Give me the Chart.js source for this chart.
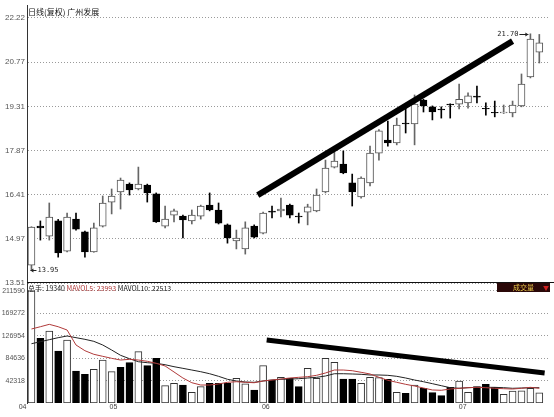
<!DOCTYPE html>
<html>
<head>
<meta charset="utf-8">
<title>广州发展 日线</title>
<script src="https://cdn.jsdelivr.net/npm/chart.js@4.4.1/dist/chart.umd.min.js"></script>
<style>
  body { margin: 0; background: #fff; }
  #wrap { position: relative; width: 554px; height: 417px; overflow: hidden; font-family: "Noto Sans CJK SC", "Liberation Sans", sans-serif; }
  canvas { position: absolute; left: 0; }
  #priceCanvas { top: 0; }
  #volCanvas { top: 283px; }
  .hdr { position: absolute; white-space: nowrap; }
  #title { left: 28px; top: 7px; font-size: 8px; line-height: 9px; color: #111; }
  #volHdr { left: 28px; top: 284px; font-size: 7px; line-height: 8px; color: #222; }
  #volHdr .ma5 { color: #b03a3a; }
  #volTag { left: 497px; top: 283px; width: 53px; height: 9px; background: #2a0808; font-size: 7px; line-height: 9px; color: #e8c84a; }
  #volTag span { position: absolute; left: 16px; }
  #volTag i { position: absolute; left: 46px; color: #d02020; font-style: normal; font-size: 6px; }
</style>
</head>
<body>
<div id="wrap">
  <canvas id="priceCanvas" width="554" height="290"></canvas>
  <canvas id="volCanvas" width="554" height="134"></canvas>
  <div class="hdr" id="title">日线(复权) 广州发展</div>
  <div class="hdr" id="volHdr">总手: 19340 <span class="ma5">MAVOL5: 23993</span> MAVOL10: 22513</div>
  <div class="hdr" id="volTag"><span>成交量</span><i>▼</i></div>
</div>
<script>
// daily candles (58 sessions, Apr - Jul)
var opens  = [14.10,15.38,15.05,15.55,14.56,15.61,15.19,14.53,15.38,16.17,
              16.50,16.76,16.60,16.73,16.44,15.38,15.74,15.71,15.55,15.71,
              16.07,15.91,15.42,14.89,14.63,15.38,15.15,15.87,15.88,16.07,
              15.71,15.84,15.88,16.50,17.32,17.42,16.80,16.34,16.80,17.78,
              18.21,18.11,18.77,18.74,19.52,19.30,19.23,19.39,19.39,19.43,
              19.65,19.25,19.12,19.10,19.10,19.33,20.28,21.10];
var highs  = [15.36,15.55,16.14,15.60,15.81,15.81,15.22,15.48,16.37,16.60,
              16.96,16.80,17.32,16.76,16.47,16.04,15.94,15.74,15.91,16.07,
              16.47,16.14,15.45,15.25,15.52,15.42,15.84,16.04,16.30,16.10,
              15.81,16.10,16.60,17.55,17.82,17.85,17.09,17.00,18.01,18.55,
              18.83,18.93,19.30,19.69,19.55,19.33,19.30,19.40,20.05,19.76,
              19.98,19.43,19.49,19.36,19.49,20.38,21.70,21.68];
var lows   = [13.95,14.92,14.92,14.36,14.53,15.25,14.36,14.52,15.35,15.78,
              15.94,16.40,16.57,16.17,15.50,15.32,15.52,14.99,15.45,15.61,
              15.88,15.45,14.82,14.63,14.46,14.99,15.12,15.65,15.68,15.65,
              15.48,15.42,15.85,16.47,17.29,17.10,16.04,16.30,16.70,17.55,
              18.01,18.05,18.44,18.05,19.13,18.87,18.93,18.93,19.23,19.26,
              19.43,19.03,18.97,19.08,18.97,19.30,20.25,20.74];
var closes = [15.35,15.32,15.68,14.50,15.68,15.28,14.53,15.32,16.14,16.37,
              16.89,16.57,16.76,16.47,15.52,15.61,15.88,15.58,15.74,16.04,
              15.91,15.48,14.99,14.99,15.32,15.02,15.81,15.84,15.94,15.74,
              15.68,16.01,16.40,17.29,17.52,17.13,16.50,16.96,17.78,18.51,
              18.11,18.70,18.74,19.39,19.33,19.13,19.20,19.36,19.55,19.66,
              19.62,19.23,19.10,19.13,19.36,20.05,21.53,21.40];

// volume (hands) and its moving averages
var volumes = [212000,122200,136000,98200,119000,60400,54200,63600,81200,59200,
               67400,76200,97000,70500,84400,32700,37200,34000,20200,30800,
               37200,37200,37200,46700,36000,24600,70500,43400,48500,46700,
               30800,65500,46700,84400,76900,45300,45300,37200,48500,47800,
               44800,20200,18300,34000,27800,19500,13800,29600,41600,20200,
               30800,35300,29600,16400,22700,23200,27800,19340];
var volUp = [1,0,1,0,1,0,0,1,1,1, 0,0,1,0,0,1,1,0,1,1, 0,0,0,1,1,0,1,0,1,0,
             0,1,1,1,1,0,0,1,1,1, 0,1,0,1,0,0,0,0,1,1, 0,0,0,1,1,1,1,1];
var mavol5 = [139800,144100,148600,144100,137900,109600,98800,92000,88200,84400,
              81200,82500,81200,78800,75000,69900,58600,47200,38300,34000,
              34000,35900,39100,40200,39100,38300,41600,43400,45300,47200,
              48500,49700,52300,56700,62300,62300,61000,58000,54800,48500,
              42900,39100,35300,32100,28300,24600,24000,26400,27800,28900,
              29600,28900,27800,27000,26400,27800,29600,27800];
var mavol10 = [112000,115800,119600,123400,126600,123400,120300,116500,109600,100100,
               90100,83700,78000,76100,75000,72300,68600,65500,62300,59100,
               55300,50400,44800,41600,39700,39100,41600,43400,44800,45300,
               45900,47200,48500,51000,55300,55300,54800,54200,52900,52900,
               52300,50400,47200,43400,40200,36500,32700,28900,27800,28900,
               29600,29600,29600,28900,27800,28300,28900,28900];

// axis labels
var priceTickLabels = ['13.51','14.97','16.41','17.87','19.31','20.77','22.22'];
var volTickLabels = ['42318','84636','126954','169272','211590'];
var monthTickPos = [0, 10.2, 27.3, 49.4];
var monthLabels = ['04','05','06','07'];

// the two hand-drawn trend lines (session index, value)
var priceTrend = [{x: 26.4, y: 16.40}, {x: 55.0, y: 21.46}];
var volTrend = [{x: 27.4, y: 119000}, {x: 58.6, y: 56700}];

var X_MIN = 0.5, X_MAX = 59.2;
var tickFont = {family: 'Liberation Sans', size: 8};

var priceTickVals = priceTickLabels.map(function(t) { return parseFloat(t); });
// the price axis is split in six equal steps between the end labels
var pLo = priceTickVals[0], pHi = priceTickVals[priceTickVals.length - 1];
var priceTickPos = priceTickLabels.map(function(t, k) { return pLo + k * (pHi - pLo) / 6; });

function isUp(i) { return closes[i] >= opens[i]; }

var wickData = opens.map(function(o, i) { return {x: i + 1, y: [lows[i], highs[i]]}; });
var bodyData = opens.map(function(o, i) { return {x: i + 1, y: [o, closes[i]]}; });

// separator under the price panel plus the high / low markers
var priceExtras = {
    id: 'priceExtras',
    afterDatasetsDraw: function(chart) {
        var ctx = chart.ctx, x = chart.scales.x, y = chart.scales.y, area = chart.chartArea;
        ctx.save();
        ctx.strokeStyle = '#111';
        ctx.lineWidth = 1;
        ctx.beginPath();
        ctx.moveTo(area.left, Math.round(area.bottom) - 0.5);
        ctx.lineTo(chart.width, Math.round(area.bottom) - 0.5);
        ctx.stroke();

        var hi = 0, lo = 0;
        highs.forEach(function(h, i) { if (h > highs[hi]) hi = i; });
        lows.forEach(function(l, i) { if (l < lows[lo]) lo = i; });

        ctx.font = '7px "DejaVu Sans Mono"';
        ctx.fillStyle = '#222';
        ctx.strokeStyle = '#222';
        ctx.textBaseline = 'middle';

        // high: "21.70 ->"
        var hx = x.getPixelForValue(hi + 1), hy = Math.round(y.getPixelForValue(highs[hi])) + 0.5;
        ctx.beginPath();
        ctx.moveTo(hx - 11, hy);
        ctx.lineTo(hx - 2, hy);
        ctx.stroke();
        ctx.beginPath();
        ctx.moveTo(hx - 2, hy);
        ctx.lineTo(hx - 5, hy - 2);
        ctx.lineTo(hx - 5, hy + 2);
        ctx.fill();
        ctx.textAlign = 'right';
        ctx.fillText(highs[hi].toFixed(2), hx - 12, hy);

        // low: "<-13.95"
        var lx = x.getPixelForValue(lo + 1), ly = Math.round(y.getPixelForValue(lows[lo])) + 0.5;
        ctx.beginPath();
        ctx.moveTo(lx - 1, ly);
        ctx.lineTo(lx + 5, ly);
        ctx.stroke();
        ctx.beginPath();
        ctx.moveTo(lx - 1, ly);
        ctx.lineTo(lx + 2, ly - 2);
        ctx.lineTo(lx + 2, ly + 2);
        ctx.fill();
        ctx.textAlign = 'left';
        ctx.fillText(lows[lo].toFixed(2), lx + 6, ly);
        ctx.restore();
    }
};

var commonPlugins = {legend: {display: false}, tooltip: {enabled: false}};

new Chart(document.getElementById('priceCanvas'), {
    type: 'bar',
    data: {
        datasets: [{
            type: 'line',
            data: priceTrend,
            borderColor: '#000',
            borderWidth: 6,
            borderCapStyle: 'butt',
            pointRadius: 0,
            order: 0
        }, {
            data: bodyData,
            backgroundColor: opens.map(function(o, i) { return isUp(i) ? '#fff' : '#000'; }),
            borderColor: opens.map(function(o, i) { return isUp(i) ? '#555' : '#000'; }),
            borderWidth: 1,
            borderSkipped: false,
            barThickness: 7,
            grouped: false,
            order: 1
        }, {
            data: wickData,
            backgroundColor: opens.map(function(o, i) { return isUp(i) ? '#666' : '#000'; }),
            borderWidth: 0,
            barThickness: 1,
            grouped: false,
            order: 2
        }]
    },
    options: {
        responsive: false,
        animation: false,
        devicePixelRatio: 1,
        events: [],
        layout: {padding: {left: 0, right: 4, top: 5, bottom: 7}},
        plugins: commonPlugins,
        scales: {
            x: {type: 'linear', min: X_MIN, max: X_MAX, offset: false, display: false},
            y: {
                type: 'linear',
                min: 13.51,
                max: 22.647,
                afterBuildTicks: function(s) { s.ticks = priceTickPos.map(function(v) { return {value: v}; }); },
                afterFit: function(s) { s.width = 27; s.paddingTop = 0; s.paddingBottom = 0; },
                ticks: {
                    callback: function(v, i) { return priceTickLabels[i]; },
                    font: tickFont,
                    color: '#555',
                    padding: 2
                },
                grid: {color: '#9a9a9a', drawTicks: false},
                border: {display: true, color: '#333', dash: [1, 2]}
            }
        }
    },
    plugins: [priceExtras]
});

new Chart(document.getElementById('volCanvas'), {
    type: 'bar',
    data: {
        datasets: [{
            type: 'line',
            data: volTrend,
            borderColor: '#000',
            borderWidth: 5,
            borderCapStyle: 'butt',
            pointRadius: 0,
            order: 0
        }, {
            type: 'line',
            data: mavol5.map(function(v, i) { return {x: i + 1, y: v}; }),
            borderColor: '#b03a3a',
            borderWidth: 1,
            pointRadius: 0,
            order: 1
        }, {
            type: 'line',
            data: mavol10.map(function(v, i) { return {x: i + 1, y: v}; }),
            borderColor: '#222',
            borderWidth: 1,
            pointRadius: 0,
            order: 1
        }, {
            data: volumes.map(function(v, i) { return {x: i + 1, y: v}; }),
            backgroundColor: volUp.map(function(u) { return u ? '#fff' : '#000'; }),
            borderColor: volUp.map(function(u) { return u ? '#333' : '#000'; }),
            borderWidth: 1,
            borderSkipped: false,
            barThickness: 7,
            order: 2
        }]
    },
    options: {
        responsive: false,
        animation: false,
        devicePixelRatio: 1,
        events: [],
        layout: {padding: {left: 0, right: 4, top: 0, bottom: 0}},
        plugins: commonPlugins,
        scales: {
            x: {
                type: 'linear',
                min: X_MIN,
                max: X_MAX,
                offset: false,
                afterBuildTicks: function(s) { s.ticks = monthTickPos.map(function(v) { return {value: v}; }); },
                afterFit: function(s) { s.height = 14; s.paddingLeft = 0; s.paddingRight = 0; },
                ticks: {
                    callback: function(v, i) { return monthLabels[i]; },
                    font: {family: 'Liberation Sans', size: 7},
                    color: '#444',
                    padding: 0,
                    maxRotation: 0
                },
                grid: {display: false, drawTicks: false, offset: false},
                border: {display: false}
            },
            y: {
                type: 'linear',
                min: 0,
                max: 226700,
                afterBuildTicks: function(s) { s.ticks = volTickLabels.map(function(t) { return {value: parseInt(t, 10)}; }); },
                afterFit: function(s) { s.width = 27; s.paddingTop = 0; s.paddingBottom = 0; },
                ticks: {
                    callback: function(v, i) { return volTickLabels[i]; },
                    font: {family: 'Liberation Sans', size: 7},
                    color: '#555',
                    padding: 2
                },
                grid: {color: '#9a9a9a', drawTicks: false},
                border: {display: true, color: '#333', dash: [1, 2]}
            }
        }
    }
});
</script>
</body>
</html>
